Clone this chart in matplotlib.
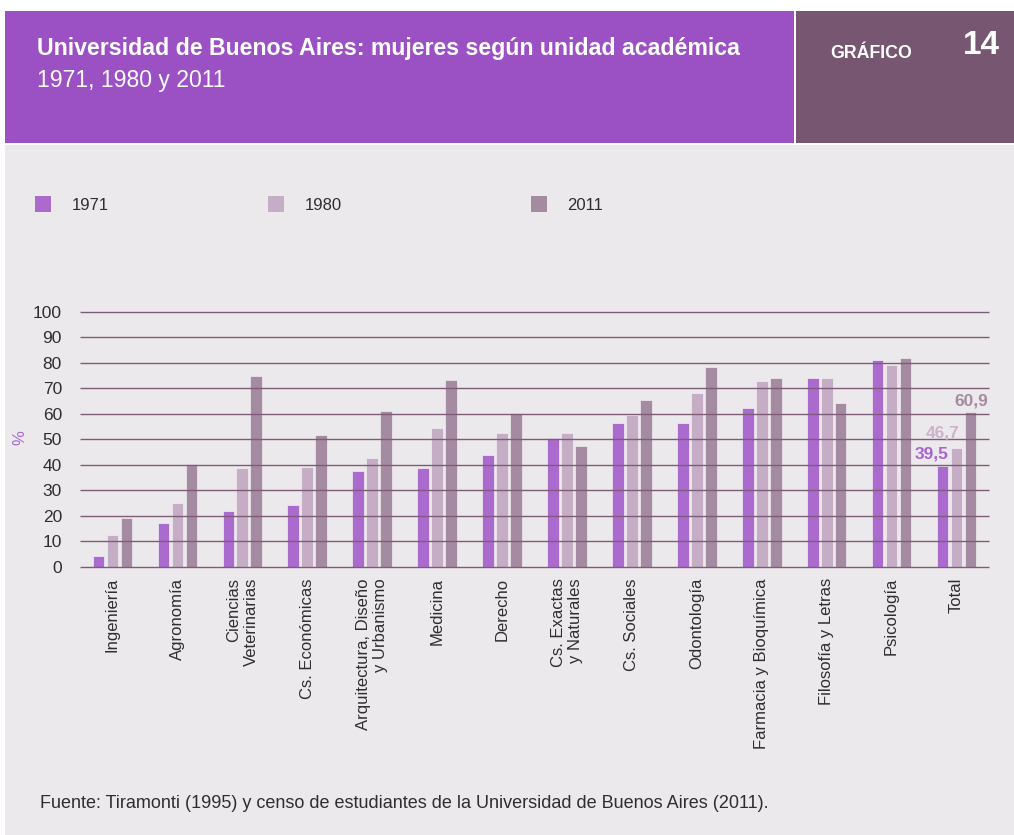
import matplotlib
matplotlib.use("Agg")
import matplotlib.pyplot as plt
from matplotlib.patches import Rectangle
import numpy as np

# ---------------- data ----------------
categories = ["Ingeniería", "Agronomía", "Ciencias\nVeterinarias", "Cs. Económicas",
              "Arquitectura, Diseño\ny Urbanismo", "Medicina", "Derecho",
              "Cs. Exactas\ny Naturales", "Cs. Sociales", "Odontología",
              "Farmacia y Bioquímica", "Filosofía y Letras", "Psicología", "Total"]
years = ["1971", "1980", "2011"]
v1971 = [4.2, 17.2, 21.8, 24.4, 37.5, 38.8, 44.0, 50.5, 56.3, 56.3, 62.1, 73.9, 81.1, 39.5]
v1980 = [12.7, 25.1, 38.8, 39.3, 42.7, 54.4, 52.5, 52.5, 59.5, 68.0, 72.7, 73.9, 79.1, 46.7]
v2011 = [19.2, 40.2, 74.7, 51.8, 61.1, 73.2, 60.3, 47.3, 65.5, 78.5, 73.9, 64.1, 81.7, 60.9]
yticks = list(range(0, 101, 10))

title = "Universidad de Buenos Aires: mujeres según unidad académica"
subtitle = "1971, 1980 y 2011"
source = "Fuente: Tiramonti (1995) y censo de estudiantes de la Universidad de Buenos Aires (2011)."

# ---------------- style ----------------
FONT = "Liberation Sans"
plt.rcParams["font.family"] = [FONT, "DejaVu Sans"]
colors = ["#AB6BCE", "#C6ADC6", "#A58BA2"]
label_colors = ["#A865CC", "#CBB3CB", "#A58BA2"]
BG = "#ECE9EC"
HEAD = "#9B51C4"
HEAD2 = "#765671"
GRID = "#7D5C78"
TXT = "#2E2E2E"

W, H = 1014, 835
fig = plt.figure(figsize=(W / 100, H / 100), dpi=100)
fig.patch.set_facecolor("white")


def rect_px(x0, y0, x1, y1, color):
    fig.add_artist(Rectangle((x0 / W, 1 - y1 / H), (x1 - x0) / W, (y1 - y0) / H,
                             transform=fig.transFigure, facecolor=color,
                             edgecolor="none", zorder=0))


def text_px(x, y, s, **kw):
    fig.text(x / W, 1 - y / H, s, **kw)


# background blocks
rect_px(5, 145, W, H, BG)
rect_px(5, 11, 794, 143, HEAD)
rect_px(796, 11, W, 143, HEAD2)

text_px(37, 48, title, color="white", fontsize=16.7, fontweight="bold", ha="left", va="center")
text_px(37, 81, subtitle, color="white", fontsize=16.6, ha="left", va="center")
text_px(830, 53, "GRÁFICO", color="white", fontsize=12.8, fontweight="bold", ha="left", va="center")
text_px(1000, 46, "14", color="white", fontsize=24, fontweight="bold", ha="right", va="center")
text_px(40, 803, source, color=TXT, fontsize=13, ha="left", va="center")

# legend
leg_sq_x = [35, 268, 531]
leg_tx_x = [72, 305, 567]
for i, yr in enumerate(years):
    rect_px(leg_sq_x[i], 196, leg_sq_x[i] + 16, 212, colors[i])
    text_px(leg_tx_x[i], 205, yr, color=TXT, fontsize=12, ha="left", va="center")

# ---------------- axes ----------------
ax = fig.add_axes([80 / W, (H - 567) / H, (989 - 80) / W, (567 - 311.7) / H])
ax.set_facecolor("none")
x = np.arange(len(categories))
w = 0.18
step = 0.215
series = [v1971, v1980, v2011]
for i, vals in enumerate(series):
    ax.bar(x + (i - 1) * step, vals, width=w, color=colors[i],
           edgecolor="#F2EEF2", linewidth=0.5, zorder=1)

ax.hlines(yticks, -0.5, len(categories) - 0.5, colors=GRID, linewidth=1.0,
          zorder=3, clip_on=False)
ax.set_xlim(-0.5, len(categories) - 0.5)
ax.set_ylim(0, 100)
ax.set_yticks(yticks)
ax.set_yticklabels([str(t) for t in yticks], fontsize=12.5, color=TXT)
ax.set_xticks(x)
ax.set_xticklabels(categories, rotation=90, fontsize=12, color=TXT,
                   va="top", ha="center", multialignment="right")
ax.tick_params(axis="y", length=0, pad=13)
ax.tick_params(axis="x", length=0, pad=8)
for s in ax.spines.values():
    s.set_visible(False)

text_px(20, 438, "%", color="#AB6BCE", fontsize=12, rotation=90, ha="center", va="center")

# value labels for Total
last = len(categories) - 1
offsets = [(0, 3), (-2, 5.5), (8.5, 2.5)]
for i, vals in enumerate(series):
    v = vals[last]
    xr = last + (i - 1) * step + w / 2
    ax.annotate(f"{v:.1f}".replace(".", ","), xy=(xr, v), xytext=offsets[i],
                textcoords="offset points", ha="right", va="bottom",
                fontsize=12.5, fontweight="bold", color=label_colors[i], zorder=5)

fig.savefig("out.png", dpi=100, facecolor=fig.get_facecolor())
